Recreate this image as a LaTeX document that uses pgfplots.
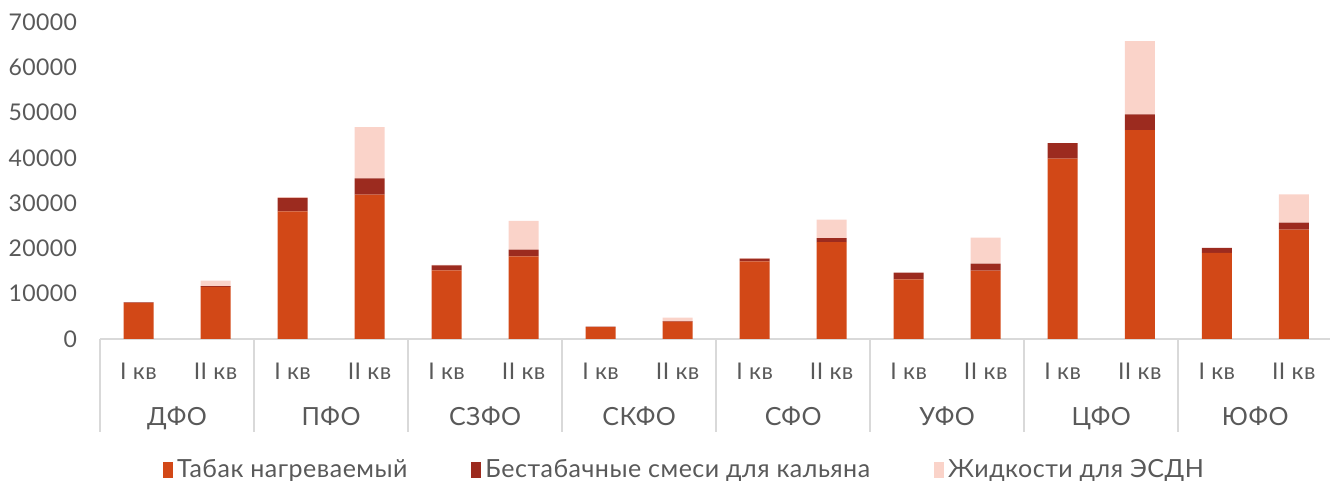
\documentclass[border=0pt]{standalone}
\usepackage{fontspec}
\setmainfont{Lato}[LetterSpace=2]
\usepackage{pgfplots}
\usepackage{pgfplotstable}
\pgfplotsset{compat=1.18}
\definecolor{c1}{HTML}{D24817}
\definecolor{c2}{HTML}{9C2B1F}
\definecolor{c3}{HTML}{FAD3C9}
\definecolor{tx}{HTML}{595959}
\definecolor{axc}{HTML}{D9D9D9}
\pgfplotstableread{
x a b c
0 8000 100 0
1 11500 200 1200
2 28200 2950 200
3 31900 3550 11350
4 15150 1100 100
5 18250 1480 6330
6 2600 150 0
7 3850 100 750
8 17150 600 100
9 21400 900 4050
10 13150 1500 0
11 15100 1550 5750
12 39850 3400 0
13 46100 3500 16200
14 19000 1100 0
15 24150 1550 6250
}\datatable
\begin{document}
\begin{tikzpicture}
\begin{axis}[
  at={(0,0)}, anchor=south west,
  scale only axis, width=615pt, height=158.5pt,
  ybar stacked, bar width=15pt,
  xmin=-0.5, xmax=15.47, ymin=0, ymax=70000,
  enlargelimits=false, clip=false,
  ytick={0,10000,...,70000},
  scaled y ticks=false,
  /pgf/number format/assume math mode=true,
  /pgf/number format/1000 sep={},
  yticklabel style={font=\fontsize{11.5}{13}\selectfont, text=tx, anchor=east, inner sep=0pt, xshift=-7pt},
  axis y line*=left,
  y axis line style={draw=none},
  ytick style={draw=none},
  axis x line*=bottom,
  x axis line style={draw=axc, line width=0.8pt, -},
  xtick={0,...,15},
  xticklabels={I кв,II кв,I кв,II кв,I кв,II кв,I кв,II кв,I кв,II кв,I кв,II кв,I кв,II кв,I кв,II кв},
  xticklabel style={font=\fontsize{11.5}{13}\selectfont, text=tx, anchor=center, yshift=-12pt, inner sep=0pt, text height=1.6ex, text depth=0pt},
  xtick style={draw=none},
  tick align=outside,
  extra x ticks={-0.5,1.5,3.5,5.5,7.5,9.5,11.5,13.5},
  extra x tick labels={},
  extra x tick style={xtick style={draw=axc, line width=0.8pt}, major tick length=46.5pt},
  legend style={draw=none, fill=none, at={(0.476,0)}, anchor=center, yshift=-65.5pt,
    font=\fontsize{12.5}{14}\selectfont, text=tx, /tikz/every even column/.append style={column sep=30pt}},
  legend columns=3,
  legend image code/.code={\fill[#1] (0pt,-4pt) rectangle (5pt,4pt);},
  legend cell align=left,
]
\addplot[fill=c1, draw=none] table[x=x, y=a] {\datatable};
\addplot[fill=c2, draw=none] table[x=x, y=b] {\datatable};
\addplot[fill=c3, draw=none] table[x=x, y=c] {\datatable};
\legend{Табак нагреваемый, Бестабачные смеси для кальяна, Жидкости для ЭСДН}
\foreach \g/\lab in {0.5/ДФО, 2.5/ПФО, 4.5/СЗФО, 6.5/СКФО, 8.5/СФО, 10.5/УФО, 12.5/ЦФО, 14.5/ЮФО}{
  \edef\tmp{\noexpand\node[font=\noexpand\fontsize{12.5}{14}\noexpand\selectfont, text=tx, anchor=center, text height=1.7ex, text depth=0pt, inner sep=0pt, yshift=-39pt] at (axis cs:\g,0) {\lab};}
  \tmp
}
\end{axis}
\pgfresetboundingbox
\path[use as bounding box] (-50pt,-71pt) rectangle (615pt,169.5pt);
\end{tikzpicture}
\end{document}
